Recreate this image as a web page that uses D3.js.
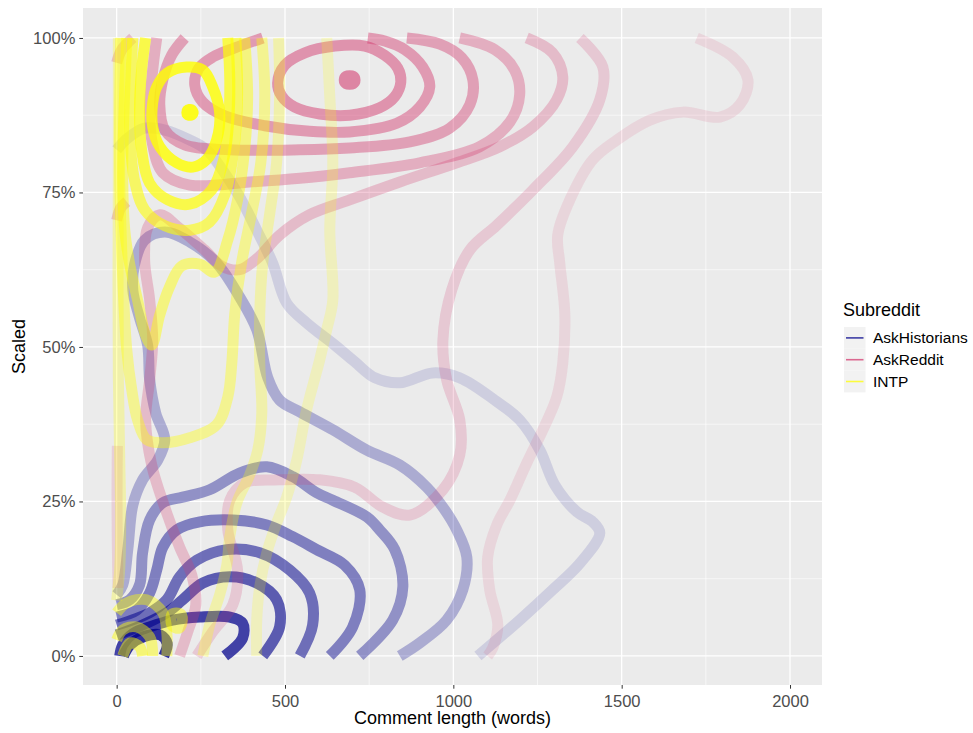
<!DOCTYPE html>
<html>
<head>
<meta charset="utf-8">
<script src="https://cdnjs.cloudflare.com/ajax/libs/d3/7.8.5/d3.min.js"></script>
<style>
  body { margin: 0; background: #fff; }
  text { font-family: "Liberation Sans", Arial, Helvetica, sans-serif; }
</style>
</head>
<body>
<div id="chart"></div>
<script>
// categories and ticks
const subreddits = ["AskHistorians", "AskReddit", "INTP"];
const xTicks = [0, 500, 1000, 1500, 2000];
const xMinor = [250, 750, 1250, 1750];
const yTicks = [0, 25, 50, 75, 100];
const yMinor = [12.5, 37.5, 62.5, 87.5];

// density contours: words, percent
const askHistorians = [
  { level: 1, pts: [[1073,0],[1197,5.8],[1295,10.7],[1376,15.0],[1435,19.9],[1414,21.7],[1367,23.3],[1301,27.7],[1257,33.3],[1197,38.2],[1123,41.4],[1019,45.0],[939,45.8],[841,44.2],[767,45.0],[707,47.6],[648,50.3],[564,53.9],[505,57.1],[463,63.6],[416,68.9],[365,74.3],[315,78.6],[267,81.9],[217,83.5],[143,85.1],[83,85.4],[33,83.8],[0,81.9]] },
  { level: 3, pts: [[841,0],[900,2.1],[980,5.8],[1028,10.7],[1040,16.0],[1010,20.4],[975,23.6],[921,27.3],[841,30.9],[743,33.3],[642,36.6],[544,39.5],[484,41.4],[449,45.0],[416,52.8],[365,58.1],[297,63.6],[217,67.0],[143,68.6],[83,67.3],[53,63.3],[48,59.2],[68,54.7],[92,50.3],[98,44.7],[116,39.3],[143,35.0],[122,31.7],[77,28.5],[48,24.4],[33,17.2],[18,11.5],[0,9.9]] },
  { level: 4.5, pts: [[722,0],[820,5.8],[850,11.2],[826,17.2],[781,20.4],[743,22.5],[642,25.2],[594,26.4],[523,29.0],[446,30.6],[365,29.6],[276,26.9],[196,25.7],[137,24.8],[98,22.0],[77,16.7],[68,11.5],[39,9.1],[0,8.3]] },
  { level: 5.5, pts: [[633,0],[701,4.7],[722,10.7],[677,14.7],[594,17.2],[523,19.3],[446,21.2],[345,22.0],[247,21.7],[178,20.4],[137,17.6],[119,13.9],[98,10.2],[59,7.4],[0,6.3]] },
  { level: 6.5, pts: [[544,0],[582,5.0],[573,10.2],[514,13.9],[425,16.7],[327,17.2],[238,15.5],[187,12.8],[149,9.1],[98,7.0],[0,5.0]] },
  { level: 7.5, pts: [[434,0],[484,4.7],[475,9.1],[416,11.8],[336,12.8],[256,11.8],[196,9.1],[149,7.0],[77,5.0],[0,3.4]] },
  { level: 9, pts: [[321,0],[374,2.9],[374,5.3],[336,6.3],[247,6.3],[166,5.8],[98,4.7],[48,3.6],[18,1.8],[9,0]] },
  { level: 10, pts: [[20,0],[40,1.8],[80,3.1],[130,3.4],[150,2.0],[140,0]] }
];

const askReddit = [
  { level: 1, pts: [[1723,100],[1830,96.9],[1875,93.2],[1851,89.2],[1792,87.2],[1682,88.0],[1584,86.7],[1486,83.5],[1414,80.3],[1346,73.8],[1310,68.1],[1316,63.6],[1331,55.5],[1325,47.4],[1307,41.9],[1266,36.6],[1218,31.2],[1168,25.2],[1129,21.2],[1102,16.0],[1108,10.7],[1132,5.0],[1117,1.3],[1102,0]] },
  { level: 1.5, pts: [[2,34],[1,26],[2,18],[4,11]] },
  { level: 2, pts: [[1376,100],[1444,95.3],[1435,90.0],[1355,82.4],[1236,75.4],[1129,69.7],[1049,65.7],[995,59.2],[969,51.1],[980,44.7],[1019,38.2],[1019,32.5],[969,26.9],[871,22.8],[790,24.1],[707,27.3],[603,28.5],[484,28.5],[380,28.0],[336,25.2],[330,20.4],[359,13.9],[345,8.3],[285,3.9],[238,0]] },
  { level: 3, pts: [[1218,100],[1295,97.6],[1325,93.7],[1307,90.0],[1236,85.6],[1138,82.4],[1010,79.8],[841,76.7],[692,73.8],[573,71.4],[484,68.1],[419,64.4],[365,62.5],[312,63.1],[261,65.7],[187,69.2],[128,71.4],[92,69.3],[83,64.1],[98,57.6],[107,51.1],[98,44.7],[86,38.2],[104,30.9],[149,23.1],[187,17.6],[223,13.1],[235,8.3],[211,3.9],[187,0]] },
  { level: 3, pts: [[0,96],[15,98.1],[48,100]] },
  { level: 3, pts: [[0,70.5],[12,72.5],[30,73.5]] },
  { level: 4, pts: [[119,100],[107,94.8],[98,88.3],[107,82.7],[137,78.2],[217,76.2],[395,76.7],[544,77.3],[692,78.2],[900,79.8],[1078,82.4],[1168,86.4],[1197,90.8],[1182,94.8],[1123,98.1],[1019,100]] },
  { level: 5, pts: [[202,100],[163,97.2],[137,93.2],[128,89.2],[143,85.1],[202,82.7],[336,81.9],[544,81.9],[692,82.2],[871,83.2],[989,85.4],[1049,89.2],[1058,93.2],[1025,96.8],[960,99.0],[862,100]] },
  { level: 5.5, pts: [[434,100],[351,98.4],[285,96.9],[244,95.1],[232,92.4],[256,89.6],[321,87.4],[440,85.8],[573,84.9],[692,84.8],[832,86.2],[900,88.8],[930,92.1],[909,95.3],[856,98.1],[796,99.5],[746,100]] },
  { level: 6, closed: true, pts: [[478,92.7],[499,95.6],[559,97.6],[648,98.7],[737,98.7],[796,97.2],[835,95.1],[844,92.9],[826,90.5],[781,88.7],[692,87.5],[603,87.7],[529,88.8],[490,90.6]] },
  { level: 7, closed: true, pts: [[682,93.8],[702,93.8],[708,93.2],[702,92.6],[682,92.6],[676,93.2]] }
];

const intp = [
  { level: 2, pts: [[624,100],[633,90.5],[642,79.8],[633,68.9],[642,57.6],[624,52.8],[603,47.9],[564,39.8],[535,31.7],[505,25.7],[475,21.5],[446,16.7],[425,11.2],[416,5.8],[416,0]] },
  { level: 3, pts: [[481,100],[484,90.5],[475,79.8],[455,71.7],[434,63.6],[425,55.5],[425,47.4],[431,39.3],[419,33.3],[395,29.3],[357,24.8],[336,19.3],[327,14.7],[306,9.9],[276,5.0],[256,0]] },
  { level: 3, pts: [[5,100],[5,80],[4,60],[5,45],[9,32],[12,22],[9,14],[0,9]] },
  { level: 4.5, pts: [[431,100],[440,90.5],[428,79.8],[401,71.7],[371,63.6],[351,55.5],[342,47.4],[330,41.9],[297,37.4],[217,35.3],[137,34.5],[89,35.0],[62,38.2],[45,43.0],[30,49.5],[21,57.6],[15,65.7],[9,77.0],[9,90.0],[12,100]] },
  { level: 5.5, pts: [[380,100],[389,90.5],[380,81.9],[359,73.8],[330,67.3],[291,62.1],[247,63.4],[193,63.1],[157,59.7],[128,55.2],[104,50.3],[86,51.9],[62,57.6],[39,63.3],[24,68.9],[18,77.0],[21,86.7],[30,100]] },
  { level: 7, pts: [[354,100],[359,90.5],[348,81.9],[321,74.6],[276,70.2],[217,68.9],[143,69.6],[83,72.2],[53,77.0],[39,85.1],[42,93.2],[48,100]] },
  { level: 5, pts: [[0,7.0],[30,8.6],[89,9.1],[137,7.0],[149,3.7],[149,0]] },
  { level: 8.5, pts: [[330,100],[336,93.2],[333,86.7],[318,80.3],[282,75.4],[217,73.1],[152,73.8],[98,76.5],[74,81.9],[68,88.3],[74,94.8],[86,100]] },
  { level: 5.5, pts: [[0,2.6],[18,4.2],[59,4.7],[98,3.1],[107,0]] },
  { level: 5.5, closed: true, pts: [[165,6.8],[190,6.8],[195,5.8],[185,4.5],[165,4.9]] },
  { level: 6, pts: [[18,0],[39,2.1],[68,1.5],[77,0]] },
  { level: 10, closed: true, pts: [[107,89.5],[119,92.1],[149,94.3],[208,95.3],[256,94.8],[285,92.1],[306,87.9],[297,83.5],[267,80.3],[226,79.1],[178,79.8],[128,82.4],[107,85.6]] },
  { level: 11, closed: true, pts: [[210,88.3],[222,88.4],[227,87.9],[220,87.5],[210,87.6]] }
];

const groups = [askHistorians, askReddit, intp];

const W = 973, H = 733;
const margin = { top: 8, right: 151, bottom: 48, left: 83 };
const width = W - margin.left - margin.right;
const height = H - margin.top - margin.bottom;

const svg = d3.select('#chart').append('svg')
  .attr('width', W)
  .attr('height', H);

const g = svg.append('g')
  .attr('transform', `translate(${margin.left},${margin.top})`);

const x = d3.scaleLinear().domain([-100, 2095]).range([0, width]);
const y = d3.scaleLinear().domain([-4.7, 104.85]).range([height, 0]);

const color = d3.scaleOrdinal().domain(subreddits).range(['#00008b', '#d33a6f', '#ffff00']);
const alpha = d3.scaleLinear().domain([1, 12]).range([0.12, 0.95]);

// panel + grid
g.append('rect').attr('width', width).attr('height', height).attr('fill', '#ebebeb');

const grid = g.append('g');
grid.selectAll('.vmin').data(xMinor).join('line')
  .attr('x1', d => x(d)).attr('x2', d => x(d)).attr('y1', 0).attr('y2', height)
  .attr('stroke', '#fff').attr('stroke-width', 0.6);
grid.selectAll('.hmin').data(yMinor).join('line')
  .attr('y1', d => y(d)).attr('y2', d => y(d)).attr('x1', 0).attr('x2', width)
  .attr('stroke', '#fff').attr('stroke-width', 0.6);
grid.selectAll('.vmaj').data(xTicks).join('line')
  .attr('x1', d => x(d)).attr('x2', d => x(d)).attr('y1', 0).attr('y2', height)
  .attr('stroke', '#fff').attr('stroke-width', 1.3);
grid.selectAll('.hmaj').data(yTicks).join('line')
  .attr('y1', d => y(d)).attr('y2', d => y(d)).attr('x1', 0).attr('x2', width)
  .attr('stroke', '#fff').attr('stroke-width', 1.3);

// contours
svg.append('defs').append('clipPath').attr('id', 'panel-clip')
  .append('rect').attr('width', width).attr('height', height);

const openLine = d3.line().x(d => x(d[0])).y(d => y(d[1])).curve(d3.curveCatmullRom.alpha(0.5));
const closedLine = d3.line().x(d => x(d[0])).y(d => y(d[1])).curve(d3.curveCatmullRomClosed.alpha(0.5));

const layer = g.append('g').attr('clip-path', 'url(#panel-clip)');
groups.forEach((contours, i) => {
  const sorted = contours.slice().sort((a, b) => a.level - b.level);
  const top = d3.max(contours, d => d.level);
  const c = color(subreddits[i]);
  layer.append('g').selectAll('path').data(sorted).join('path')
    .attr('d', d => d.closed ? closedLine(d.pts) : openLine(d.pts))
    // the tiny peak ring is drawn solid, as the thick stroke closes it up
    .attr('fill', d => d.closed && d.level === top ? c : 'none')
    .attr('stroke', c)
    .attr('opacity', d => alpha(d.level))
    .attr('stroke-width', 11)
    .attr('stroke-linecap', 'butt')
    .attr('stroke-linejoin', 'round');
});

// axes
const xAxis = g.append('g')
  .attr('transform', `translate(0,${height})`)
  .call(d3.axisBottom(x).tickValues(xTicks).tickSize(3.7).tickPadding(4).tickFormat(d3.format('d')));
const yAxis = g.append('g')
  .call(d3.axisLeft(y).tickValues(yTicks).tickSize(3.7).tickPadding(4).tickFormat(d => d + '%'));

[xAxis, yAxis].forEach(a => {
  a.select('.domain').remove();
  a.selectAll('line').attr('stroke', '#333');
  a.selectAll('text').attr('fill', '#4d4d4d').style('font-size', '16.5px');
});
xAxis.selectAll('text').attr('dy', '0.85em');

// titles
svg.append('text')
  .attr('x', margin.left + width / 2).attr('y', 724)
  .attr('text-anchor', 'middle').style('font-size', '18px').attr('fill', '#000')
  .text('Comment length (words)');

svg.append('text')
  .attr('transform', `translate(25,${margin.top + height / 2}) rotate(-90)`)
  .attr('text-anchor', 'middle').style('font-size', '18px').attr('fill', '#000')
  .text('Scaled');

// legend
const legend = svg.append('g').attr('transform', 'translate(843,0)');
legend.append('text').attr('x', 0).attr('y', 316).style('font-size', '18px').text('Subreddit');
const keys = legend.selectAll('.key').data(subreddits).join('g')
  .attr('transform', (d, i) => `translate(1,${327 + i * 21.8})`);
keys.append('rect').attr('width', 21.5).attr('height', 21.8).attr('fill', '#f2f2f2');
keys.append('line').attr('x1', 2).attr('x2', 19.5).attr('y1', 10.9).attr('y2', 10.9)
  .attr('stroke', d => color(d)).attr('stroke-opacity', 0.75).attr('stroke-width', 1.6);
keys.append('text').attr('x', 29).attr('y', 10.9).attr('dy', '0.35em')
  .style('font-size', '15.5px').attr('fill', '#000').text(d => d);
</script>
</body>
</html>
